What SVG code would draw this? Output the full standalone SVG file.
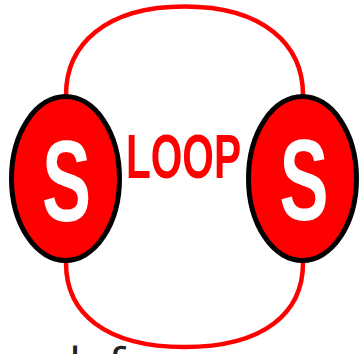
<svg xmlns="http://www.w3.org/2000/svg" width="360" height="354" viewBox="0 0 360 354">
  <style>
    .loop { fill: none; stroke: #ff0000; stroke-width: 4.5; }
    .node { fill: #ff0000; stroke: #000000; stroke-width: 5; }
    .s { font-family: "Liberation Sans", Arial, sans-serif; font-weight: bold; font-size: 115px; fill: #ffffff; text-anchor: middle; }
    .lbl { font-family: "Liberation Sans", Arial, sans-serif; font-weight: bold; font-size: 63px; fill: #ff0000; text-anchor: middle; }
    .cap { font-family: "Open Sans", "Liberation Sans", sans-serif; font-size: 48px; fill: #222222; }
  </style>
  <rect width="360" height="354" fill="#ffffff"/>
  <g id="connectors">
    <path class="loop" d="M66,95 C66,45 105,6.5 184.5,6.5 S303,45 303,95"/>
    <path class="loop" d="M66,263 C66,313 105,347 184.5,347 S303,313 303,263"/>
  </g>
  <g id="node-left">
    <ellipse class="node" cx="65.5" cy="178.5" rx="54" ry="82"/>
    <text class="s" transform="translate(66.5,220.5) scale(0.64,1)">S</text>
  </g>
  <g id="node-right">
    <ellipse class="node" cx="302.5" cy="178.5" rx="54" ry="82"/>
    <text class="s" transform="translate(304,220) scale(0.64,1)">S</text>
  </g>
  <g id="label">
    <text class="lbl" transform="translate(183.5,178.3) scale(0.645,1)">LOOP</text>
  </g>
  <g id="caption">
    <text class="cap" x="69" y="381.5">lef</text>
  </g>
</svg>
